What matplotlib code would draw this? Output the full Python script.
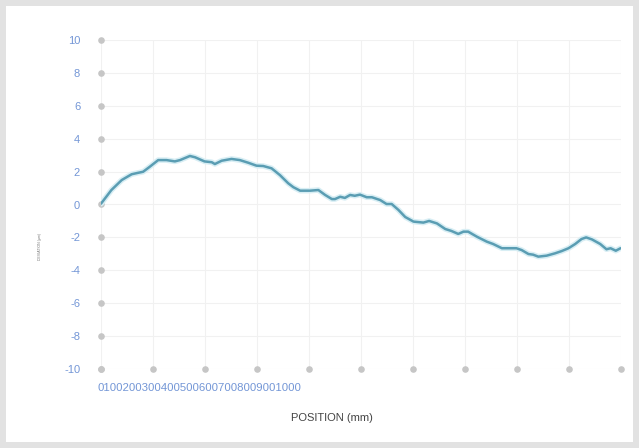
import numpy as np
import matplotlib.pyplot as plt
from matplotlib.patches import Rectangle

plt.rcParams['font.family'] = ['Liberation Sans', 'DejaVu Sans']

# traced profile: position (mm) vs deviation
position = [0, 20, 40, 59, 72, 81, 94, 110, 126, 142, 152, 171, 181, 199,
            213, 219, 232, 251, 267, 283, 299, 312, 328, 344, 360, 370, 383,
            402, 418, 431, 444, 450, 460, 469, 479, 488, 498, 511, 521, 537,
            549, 559, 572, 585, 601, 620, 631, 646, 662, 674, 687, 697, 706,
            723, 742, 754, 771, 785, 799, 809, 822, 831, 841, 857, 873, 886,
            899, 912, 924, 933, 944, 960, 972, 980, 990, 999]
deviation = [0.05, 0.88, 1.49, 1.84, 1.93, 1.99, 2.30, 2.70, 2.70, 2.62, 2.70,
             2.95, 2.87, 2.62, 2.57, 2.46, 2.66, 2.77, 2.70, 2.54, 2.36, 2.34,
             2.20, 1.79, 1.29, 1.05, 0.84, 0.84, 0.88, 0.58, 0.33, 0.33, 0.47,
             0.40, 0.58, 0.53, 0.60, 0.44, 0.44, 0.27, 0.03, 0.03, -0.33,
             -0.76, -1.04, -1.10, -1.00, -1.15, -1.49, -1.61, -1.79, -1.65,
             -1.65, -1.96, -2.26, -2.40, -2.66, -2.66, -2.66, -2.77, -3.01,
             -3.05, -3.17, -3.11, -2.97, -2.83, -2.66, -2.40, -2.10, -2.00,
             -2.12, -2.40, -2.72, -2.66, -2.81, -2.66]

x_ticks = [0, 100, 200, 300, 400, 500, 600, 700, 800, 900, 1000]
x_tick_labels = ['0', '100', '200', '300', '400', '500', '600', '700', '800', '900', '1000']
y_ticks = [-10, -8, -6, -4, -2, 0, 2, 4, 6, 8, 10]

W, H = 639, 448
fig = plt.figure(figsize=(W / 100, H / 100), dpi=100, facecolor='#e2e2e2')
fig.patches.append(Rectangle((6 / W, 6 / H), 627 / W, 436 / H,
                             transform=fig.transFigure, facecolor='white',
                             edgecolor='none', zorder=-5))

ax = fig.add_axes([101 / W, 1 - 369 / H, 520 / W, 329 / H])
ax.set_facecolor('none')
ax.set_xlim(0, 1000)
ax.set_ylim(-10, 10)
for s in ax.spines.values():
    s.set_visible(False)

ax.set_xticks(x_ticks)
ax.set_xticklabels([])
ax.set_yticks(y_ticks)
ax.set_yticklabels([str(v) for v in y_ticks])
ax.tick_params(axis='both', length=0)
ax.tick_params(axis='y', pad=15, labelsize=8, labelcolor='#7396d6')
ax.grid(True, color='#f1f1f1', linewidth=0.8)

# gray dots on the axes
ax.scatter([0] * len(y_ticks), y_ticks, s=14, color='#c6c6c6', clip_on=False, zorder=3)
ax.scatter(x_ticks, [-10] * len(x_ticks), s=14, color='#c6c6c6', clip_on=False, zorder=3)

ax.plot(position, deviation, color='#d8eef4', linewidth=4, zorder=4,
        solid_capstyle='round')
ax.plot(position, deviation, color='#5a9db3', linewidth=1.8, zorder=5,
        solid_capstyle='round')

# crammed x tick labels
fig.text(98 / W, 1 - 388 / H, ''.join(x_tick_labels), fontsize=8.2,
         color='#7396d6', va='center', ha='left')

fig.text(332 / W, 1 - 418 / H, 'POSITION (mm)', fontsize=8, color='#444444',
         ha='center', va='center')
fig.text(40 / W, 1 - 247 / H, 'DEVIATION (µm)', fontsize=2.5, color='#777777',
         rotation=90, ha='center', va='center')

fig.savefig('out.png', dpi=100, facecolor=fig.get_facecolor())
